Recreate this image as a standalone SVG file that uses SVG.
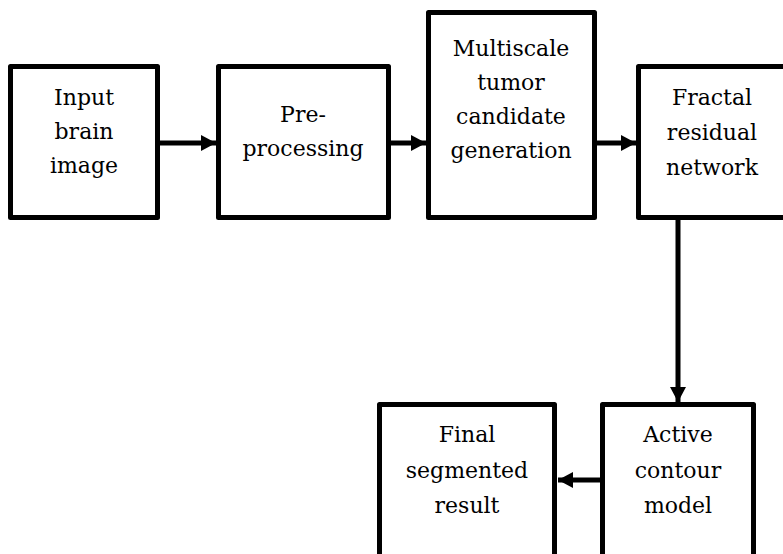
<svg xmlns="http://www.w3.org/2000/svg" width="783" height="554" viewBox="0 0 783 554">
<defs>
<style>
.box{fill:#fff;stroke:#000;stroke-width:5;stroke-linejoin:round}
.lbl{font-family:"DejaVu Serif","Liberation Serif",serif;font-size:22px;fill:#000;text-anchor:middle}
.conn{stroke:#000;stroke-width:5;fill:none}
</style>
<marker id="ah" markerWidth="15" markerHeight="16" refX="15" refY="8" orient="auto" markerUnits="userSpaceOnUse">
<path d="M0,0 L15,8 L0,16 Z" fill="#000"/>
</marker>
</defs>
<rect width="783" height="554" fill="#fff"/>
<g id="connectors">
<line class="conn" x1="160" y1="143" x2="216" y2="143" marker-end="url(#ah)"/>
<line class="conn" x1="391" y1="143" x2="426" y2="143" marker-end="url(#ah)"/>
<line class="conn" x1="597" y1="143" x2="636" y2="143" marker-end="url(#ah)"/>
<line class="conn" x1="678" y1="220" x2="678" y2="402" marker-end="url(#ah)"/>
<line class="conn" x1="600" y1="480" x2="558" y2="480" marker-end="url(#ah)"/>
</g>
<g id="node-input">
<rect class="box" x="10.5" y="66.5" width="147" height="151"/>
<text class="lbl"><tspan x="84" y="105">Input</tspan><tspan x="84" y="139">brain</tspan><tspan x="84" y="173">image</tspan></text>
</g>
<g id="node-preprocessing">
<rect class="box" x="218.5" y="66.5" width="170" height="151"/>
<text class="lbl"><tspan x="303" y="122">Pre-</tspan><tspan x="303" y="156">processing</tspan></text>
</g>
<g id="node-multiscale">
<rect class="box" x="428.5" y="12.5" width="166" height="205"/>
<text class="lbl"><tspan x="511" y="56">Multiscale</tspan><tspan x="511" y="90">tumor</tspan><tspan x="511" y="124">candidate</tspan><tspan x="511" y="158">generation</tspan></text>
</g>
<g id="node-fractal">
<rect class="box" x="638.5" y="66.5" width="148" height="151"/>
<text class="lbl"><tspan x="712" y="105">Fractal</tspan><tspan x="712" y="140">residual</tspan><tspan x="712" y="175">network</tspan></text>
</g>
<g id="node-active">
<rect class="box" x="602.5" y="404.5" width="151" height="170"/>
<text class="lbl"><tspan x="678" y="442">Active</tspan><tspan x="678" y="478">contour</tspan><tspan x="678" y="513">model</tspan></text>
</g>
<g id="node-final">
<rect class="box" x="379.5" y="404.5" width="175" height="170"/>
<text class="lbl"><tspan x="467" y="442">Final</tspan><tspan x="467" y="478">segmented</tspan><tspan x="467" y="513">result</tspan></text>
</g>
</svg>
